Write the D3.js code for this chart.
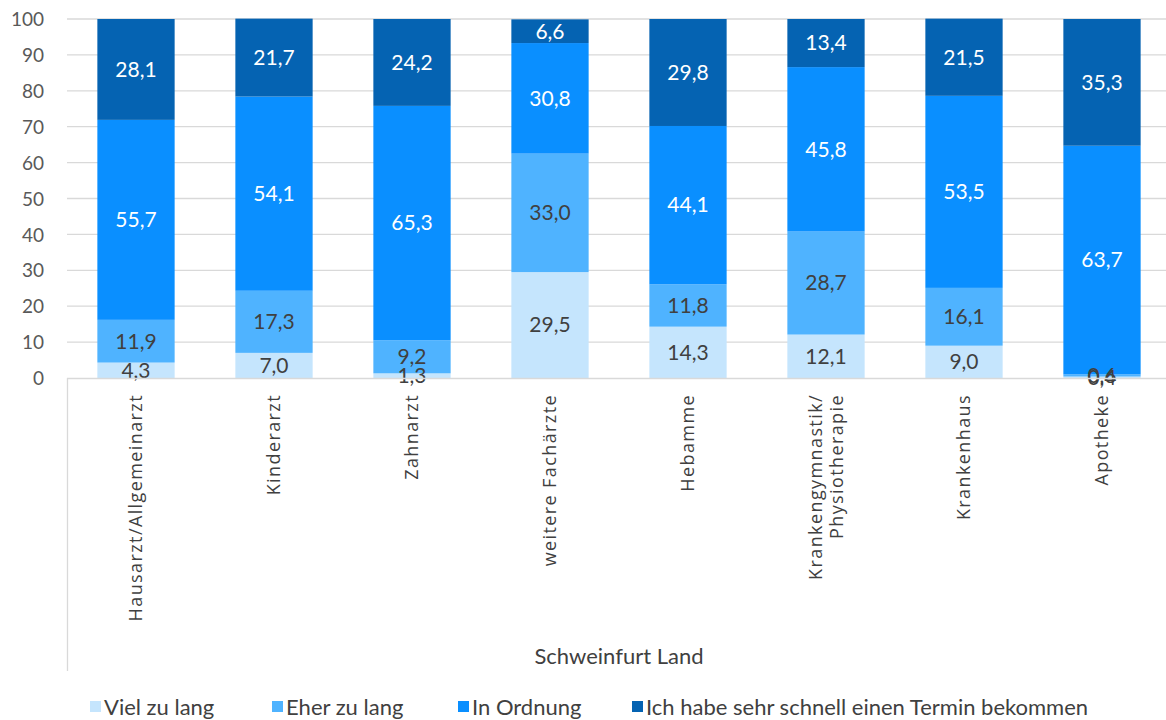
<!DOCTYPE html>
<html><head><meta charset="utf-8">
<script src="https://cdn.jsdelivr.net/npm/d3@7"></script>
<style>body{margin:0;background:#fff}svg{display:block}</style>
</head><body>
<svg id="c" width="1166" height="720"></svg>
<script>
const categories = ["Hausarzt/Allgemeinarzt","Kinderarzt","Zahnarzt","weitere Fachärzte","Hebamme","Krankengymnastik/\nPhysiotherapie","Krankenhaus","Apotheke"];
const seriesNames = ["Viel zu lang","Eher zu lang","In Ordnung","Ich habe sehr schnell einen Termin bekommen"];
const vielZuLang   = [4.3, 7.0, 1.3, 29.5, 14.3, 12.1, 9.0, 0.4];
const eherZuLang   = [11.9, 17.3, 9.2, 33.0, 11.8, 28.7, 16.1, 0.6];
const inOrdnung    = [55.7, 54.1, 65.3, 30.8, 44.1, 45.8, 53.5, 63.7];
const schnell      = [28.1, 21.7, 24.2, 6.6, 29.8, 13.4, 21.5, 35.3];
const yTicks = [0,10,20,30,40,50,60,70,80,90,100];
const groupLabel = "Schweinfurt Land";
const colors = ["#c5e5fd","#4fb3ff","#0a8fff","#0563b2"];
const labelColors = ["#404040","#404040","#ffffff","#ffffff"];

const svg = d3.select("#c");
const font = "Lato, 'Liberation Sans', sans-serif";
const x0 = 67, x1 = 1171, yTop = 19, yBot = 378;
const x = d3.scaleBand().domain(d3.range(categories.length)).range([x0, x1]).paddingInner(0.44).paddingOuter(0.22);
const y = d3.scaleLinear().domain([0,100]).range([yBot, yTop]);

// gridlines
svg.append("g").selectAll("line").data(yTicks.filter(d=>d>0)).join("line")
  .attr("x1", x0).attr("x2", 1166).attr("y1", d=>y(d)).attr("y2", d=>y(d))
  .attr("stroke","#d9d9d9").attr("stroke-width",1.3);

// y axis labels
const yAxis = d3.axisLeft(y).tickValues(yTicks).tickSize(0).tickPadding(0).tickFormat(d3.format("d"));
const ga = svg.append("g").attr("transform", `translate(44,0)`).call(yAxis);
ga.select(".domain").remove();
ga.selectAll("text").attr("font-family", font).attr("font-size", 19).attr("fill","#595959").attr("dy","0.35em");

const series = [vielZuLang, eherZuLang, inOrdnung, schnell];
const stackData = categories.map((c,i)=>({i, v: series.map(s=>s[i])}));
const stack = d3.stack().keys([0,1,2,3]).value((d,k)=>d.v[k]);
const stacked = stack(stackData);

const g = svg.append("g");
stacked.forEach((layer, k) => {
  g.append("g").selectAll("rect").data(layer).join("rect")
    .attr("x", d=>x(d.data.i)).attr("width", x.bandwidth())
    .attr("y", d=>y(d[1])).attr("height", d=>y(d[0])-y(d[1]))
    .attr("fill", colors[k]);
});
stacked.forEach((layer, k) => {
  g.append("g").selectAll("text").data(layer).join("text")
    .attr("x", d=>x(d.data.i)+x.bandwidth()/2)
    .attr("y", d=>y((d[0]+d[1])/2))
    .attr("dy","0.35em").attr("text-anchor","middle")
    .attr("font-family", font).attr("font-size", 21)
    .attr("fill", labelColors[k])
    .text(d=>d3.format(".1f")(d.data.v[k]).replace(".",","));
});

// axis lines
svg.append("line").attr("x1", x0).attr("x2", 1166).attr("y1", yBot+0.5).attr("y2", yBot+0.5).attr("stroke","#d9d9d9").attr("stroke-width",1.3);
svg.append("line").attr("x1", x0+0.5).attr("x2", x0+0.5).attr("y1", yBot).attr("y2", 671).attr("stroke","#d9d9d9").attr("stroke-width",1.3);

// category labels
const cl = svg.append("g");
categories.forEach((c,i)=>{
  const lines = c.split("\n");
  const cx = x(i)+x.bandwidth()/2;
  const t = cl.append("text").attr("transform", `translate(${cx},394) rotate(-90)`)
    .attr("text-anchor","end").attr("font-family","'Open Sans', sans-serif").attr("font-size",18)
    .attr("letter-spacing","1.4px").attr("fill","#404040");
  const n = lines.length;
  lines.forEach((ln,j)=>{
    t.append("tspan").attr("x",0).attr("dy", j===0 ? `${0.35-(n-1)*0.6}em` : "1.2em").text(ln);
  });
});

svg.append("text").attr("x", 619).attr("y", 656).attr("dy","0.35em").attr("text-anchor","middle")
  .attr("font-family", font).attr("font-size", 22).attr("fill","#404040").text(groupLabel);

// legend
const legX = [90, 272, 458, 632];
const lg = svg.append("g");
seriesNames.forEach((s,k)=>{
  lg.append("rect").attr("x", legX[k]).attr("y", 701).attr("width", 11).attr("height", 11).attr("fill", colors[k]);
  lg.append("text").attr("x", legX[k]+14).attr("y", 707).attr("dy","0.35em")
    .attr("font-family", font).attr("font-size", 22).attr("fill","#404040").text(s);
});
</script>
</body></html>
